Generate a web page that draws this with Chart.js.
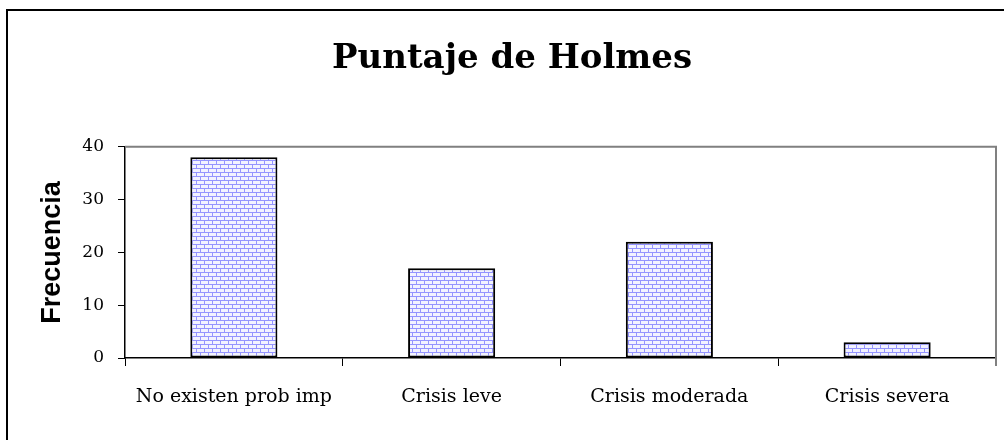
<!DOCTYPE html>
<html>
<head>
<meta charset="utf-8">
<script src="https://cdn.jsdelivr.net/npm/chart.js@4.4.1/dist/chart.umd.min.js"></script>
<style>
  html, body { margin: 0; padding: 0; background: #fff; }
  #wrap { width: 1004px; height: 440px; position: relative; }
</style>
</head>
<body>
<div id="wrap"><canvas id="holmes"></canvas></div>
<script>
// datos
const categorias = ['No existen prob imp', 'Crisis leve', 'Crisis moderada', 'Crisis severa'];
const frecuencias = [38, 17, 22, 3];
const titulo = 'Puntaje de Holmes';
const tituloEjeY = 'Frecuencia';

// trama de ladrillos azul claro para las barras
function tramaLadrillo() {
  const c = document.createElement('canvas');
  c.width = 8; c.height = 8;
  const ctx = c.getContext('2d');
  ctx.fillStyle = '#f2f2ff';
  ctx.fillRect(0, 0, 8, 8);
  ctx.fillStyle = '#9494ff';
  ctx.fillRect(0, 0, 8, 1);
  ctx.fillRect(0, 4, 8, 1);
  ctx.fillRect(0, 0, 1, 4);
  ctx.fillRect(4, 4, 1, 4);
  return ctx.createPattern(c, 'repeat');
}

// marco exterior y borde gris del area de trazado
const marcos = {
  id: 'marcos',
  beforeDraw(chart) {
    const ctx = chart.ctx;
    ctx.save();
    ctx.strokeStyle = '#000';
    ctx.lineWidth = 2;
    ctx.strokeRect(7, 10, 1010, 450);
    ctx.restore();
  },
  beforeDatasetsDraw(chart) {
    const a = chart.chartArea;
    const ctx = chart.ctx;
    ctx.save();
    ctx.strokeStyle = '#808080';
    ctx.lineWidth = 2;
    ctx.beginPath();
    ctx.moveTo(a.left, a.top);
    ctx.lineTo(a.right, a.top);
    ctx.lineTo(a.right, a.bottom + 8);
    ctx.stroke();
    ctx.restore();
  }
};

const serif = "'DejaVu Serif', serif";

new Chart(document.getElementById('holmes'), {
  type: 'bar',
  data: {
    labels: categorias,
    datasets: [{
      label: tituloEjeY,
      data: frecuencias,
      backgroundColor: tramaLadrillo(),
      borderColor: '#000',
      borderWidth: 2,
      borderSkipped: false,
      barPercentage: 0.4,
      categoryPercentage: 1.0
    }]
  },
  options: {
    responsive: true,
    maintainAspectRatio: false,
    animation: false,
    layout: { padding: { left: 28, right: 8, top: 0, bottom: 0 } },
    plugins: {
      legend: { display: false },
      tooltip: { enabled: false },
      title: {
        display: true,
        text: titulo,
        color: '#000',
        font: { family: serif, size: 34, weight: 'bold' },
        padding: { top: 39, bottom: 67 }
      }
    },
    scales: {
      x: {
        offset: true,
        afterFit(scale) { scale.height = 82; },
        grid: { offset: true, drawOnChartArea: false, color: '#000', tickLength: 8, lineWidth: 1 },
        border: { color: '#000', width: 1.5 },
        ticks: { color: '#000', font: { family: serif, size: 19 }, padding: 20, maxRotation: 0 }
      },
      y: {
        min: 0,
        max: 40,
        afterFit(scale) { scale.width = 97; },
        grid: { drawOnChartArea: false, color: '#000', tickLength: 7, lineWidth: 1 },
        border: { color: '#000', width: 1.5 },
        ticks: { stepSize: 10, color: '#000', font: { family: serif, size: 17 }, padding: 14 },
        title: {
          display: true,
          text: tituloEjeY,
          color: '#000',
          font: { family: "'Liberation Sans', Arial, sans-serif", size: 27, weight: 'bold' },
          padding: { top: 8, bottom: 0 }
        }
      }
    }
  },
  plugins: [marcos]
});
</script>
</body>
</html>
